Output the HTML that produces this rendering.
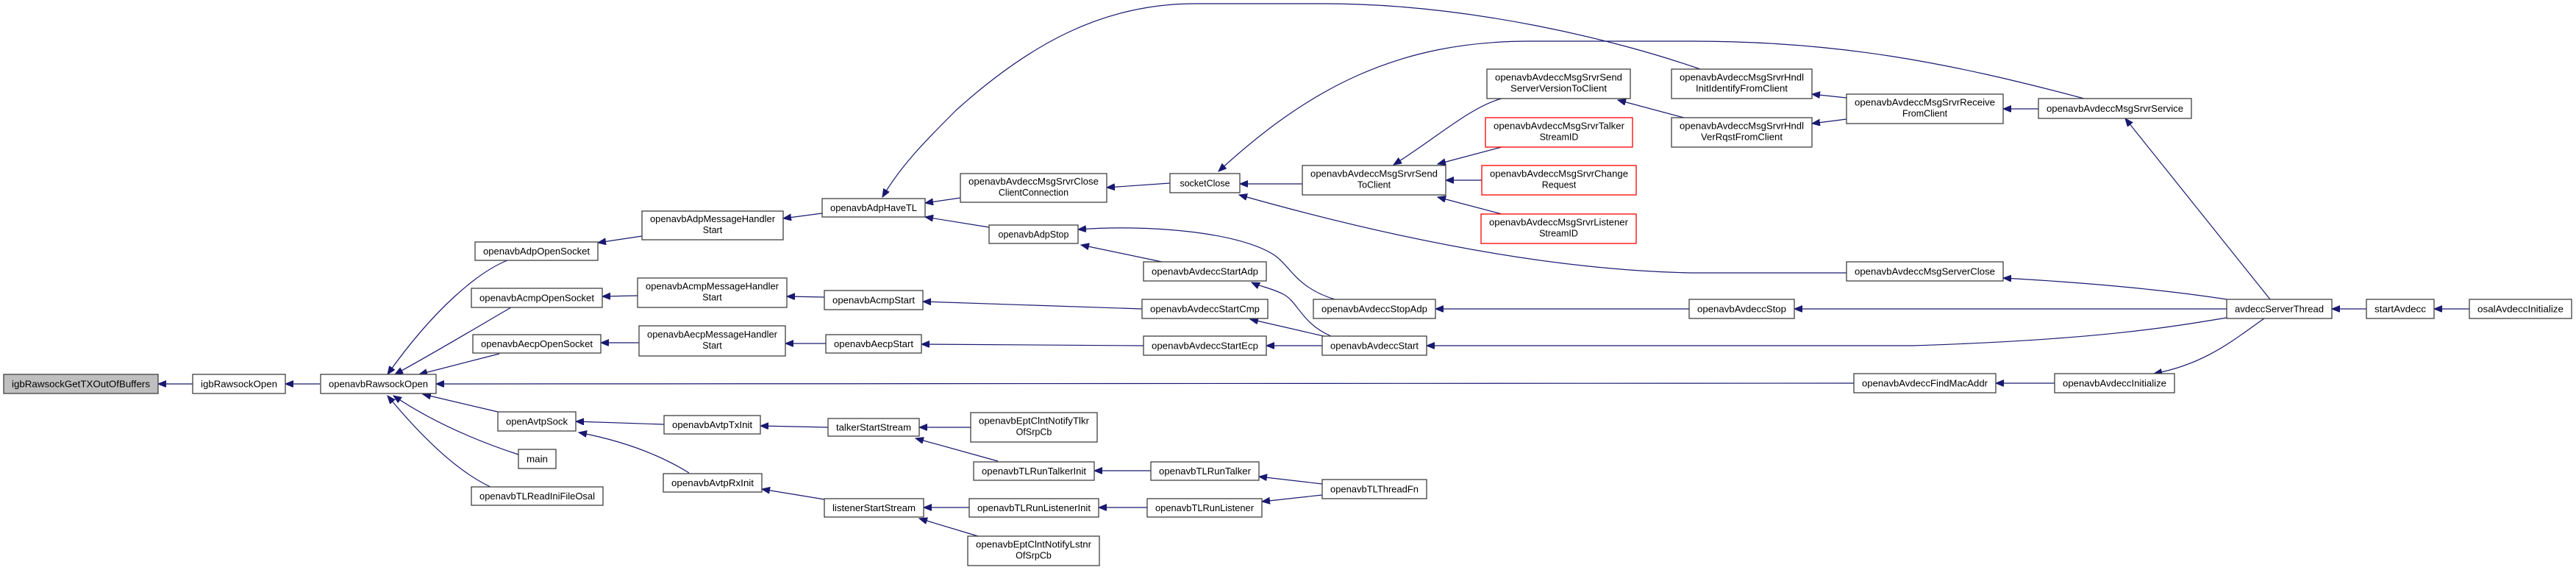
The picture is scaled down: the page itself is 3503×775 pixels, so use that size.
<!DOCTYPE html>
<html><head><meta charset="utf-8"><style>
html,body{margin:0;padding:0;background:#fff;}
svg{display:block;}
text{font-family:"Liberation Sans",sans-serif;font-size:12.5px;fill:#000;text-anchor:middle;}
rect{fill:#fff;stroke:#404040;stroke-width:1.3;}
rect.r{stroke:#ff0000;}
rect.g{fill:#bfbfbf;}
path{fill:none;stroke:#191970;stroke-width:1.2;marker-end:url(#a);}
</style></head><body>
<svg width="3503" height="775" viewBox="0 0 3503 775" xmlns="http://www.w3.org/2000/svg">
<defs><marker id="a" markerUnits="userSpaceOnUse" markerWidth="12" markerHeight="10" refX="11" refY="4.5" orient="auto"><polygon points="0,0 11,4.5 0,9" fill="#191970" stroke="#191970"/></marker></defs>
<g>
<path d="M262,522 L215,522"/>
<path d="M435,522 L388,522"/>
<path d="M690,354 C650,370 590,420 527,509"/>
<path d="M695,418 C640,450 590,480 537,509"/>
<path d="M679,481 L570,509"/>
<path d="M2521,521 L593,522"/>
<path d="M677,560 L575,536"/>
<path d="M705,618 C650,600 590,575 535,538"/>
<path d="M667,662 C620,640 570,590 527,538"/>
<path d="M873,321 L813,330"/>
<path d="M867,402 L819,403"/>
<path d="M869,466 L817,466"/>
<path d="M1118,290 L1065,297"/>
<path d="M1121,404 L1070,403"/>
<path d="M1123,467 L1068,467"/>
<path d="M1306,269 L1258,276"/>
<path d="M1345,309 L1258,295"/>
<path d="M2312,94 C2200,55 2000,5 1800,5 L1625,5 C1500,5 1400,60 1300,150 C1260,190 1225,225 1200,268"/>
<path d="M2834,134 C2650,85 2500,56 2300,56 L2080,56 C1900,56 1780,120 1657,233"/>
<path d="M1591,249 L1505,255"/>
<path d="M1771,250 L1686,250"/>
<path d="M2511,371 L2300,371 C2150,368 1950,340 1685,265"/>
<path d="M1580,356 L1470,333"/>
<path d="M1815,407 C1760,390 1755,360 1730,345 C1680,315 1560,305 1466,312"/>
<path d="M1810,457 C1770,440 1765,410 1745,400 C1730,392 1715,390 1702,384"/>
<path d="M1800,457 L1700,434"/>
<path d="M1798,470 L1722,470"/>
<path d="M1553,420 L1255,410"/>
<path d="M1555,470 L1253,468"/>
<path d="M2042,134 C2000,145 1950,190 1895,224"/>
<path d="M2042,200 L1955,223"/>
<path d="M2015,245 L1966,245"/>
<path d="M2042,291 L1955,268"/>
<path d="M2290,160 L2200,136"/>
<path d="M2511,133 L2464,128"/>
<path d="M2511,162 L2464,168"/>
<path d="M2772,148 L2724,148"/>
<path d="M3087,407 L2890,161"/>
<path d="M3028,407 C2950,395 2850,385 2724,378"/>
<path d="M3028,420 L2440,420"/>
<path d="M2297,420 L1952,420"/>
<path d="M3028,432 C2950,445 2850,462 2600,470 L1940,470"/>
<path d="M3079,433 C3040,460 3000,495 2929,508"/>
<path d="M2794,521 L2714,521"/>
<path d="M3218,420 L3171,420"/>
<path d="M3358,420 L3310,420"/>
<path d="M903,577 L783,573"/>
<path d="M937,643 C900,620 850,600 787,588"/>
<path d="M1126,581 L1034,579"/>
<path d="M1121,679 L1036,665"/>
<path d="M1320,581 L1250,581"/>
<path d="M1357,627 L1245,596"/>
<path d="M1565,640 L1488,640"/>
<path d="M1798,658 L1712,648"/>
<path d="M1318,690 L1256,690"/>
<path d="M1330,729 L1250,705"/>
<path d="M1560,690 L1494,690"/>
<path d="M1798,673 L1716,682"/>
</g>
<g>
<rect class="g" x="5" y="509" width="210" height="26"/><text x="110" y="526.5" textLength="188" lengthAdjust="spacingAndGlyphs">igbRawsockGetTXOutOfBuffers</text>
<rect x="262" y="509" width="126" height="26"/><text x="325" y="526.5" textLength="104" lengthAdjust="spacingAndGlyphs">igbRawsockOpen</text>
<rect x="436" y="509" width="157" height="26"/><text x="514.5" y="526.5" textLength="135" lengthAdjust="spacingAndGlyphs">openavbRawsockOpen</text>
<rect x="646" y="329" width="167" height="25"/><text x="729.5" y="346" textLength="145" lengthAdjust="spacingAndGlyphs">openavbAdpOpenSocket</text>
<rect x="641" y="392" width="178" height="26"/><text x="730" y="409.5" textLength="156" lengthAdjust="spacingAndGlyphs">openavbAcmpOpenSocket</text>
<rect x="643" y="455" width="174" height="25"/><text x="730" y="472" textLength="152" lengthAdjust="spacingAndGlyphs">openavbAecpOpenSocket</text>
<rect x="873" y="287" width="192" height="39"/><text x="969" y="302" textLength="170" lengthAdjust="spacingAndGlyphs">openavbAdpMessageHandler</text><text x="969" y="317">Start</text>
<rect x="867" y="378" width="203" height="40"/><text x="968.5" y="393.5" textLength="181" lengthAdjust="spacingAndGlyphs">openavbAcmpMessageHandler</text><text x="968.5" y="408.5">Start</text>
<rect x="869" y="443" width="199" height="41"/><text x="968.5" y="459" textLength="177" lengthAdjust="spacingAndGlyphs">openavbAecpMessageHandler</text><text x="968.5" y="474">Start</text>
<rect x="1118" y="270" width="140" height="25"/><text x="1188" y="287" textLength="118" lengthAdjust="spacingAndGlyphs">openavbAdpHaveTL</text>
<rect x="1121" y="395" width="134" height="26"/><text x="1188" y="412.5" textLength="112" lengthAdjust="spacingAndGlyphs">openavbAcmpStart</text>
<rect x="1123" y="455" width="130" height="25"/><text x="1188" y="472" textLength="108" lengthAdjust="spacingAndGlyphs">openavbAecpStart</text>
<rect x="677" y="560" width="106" height="26"/><text x="730" y="577.5" textLength="84" lengthAdjust="spacingAndGlyphs">openAvtpSock</text>
<rect x="705" y="611" width="51" height="26"/><text x="730.5" y="628.5" textLength="29" lengthAdjust="spacingAndGlyphs">main</text>
<rect x="641" y="662" width="179" height="25"/><text x="730.5" y="679" textLength="157" lengthAdjust="spacingAndGlyphs">openavbTLReadIniFileOsal</text>
<rect x="903" y="565" width="131" height="25"/><text x="968.5" y="582" textLength="109" lengthAdjust="spacingAndGlyphs">openavbAvtpTxInit</text>
<rect x="902" y="644" width="134" height="25"/><text x="969" y="661" textLength="112" lengthAdjust="spacingAndGlyphs">openavbAvtpRxInit</text>
<rect x="1126" y="569" width="124" height="24"/><text x="1188" y="585.5" textLength="102" lengthAdjust="spacingAndGlyphs">talkerStartStream</text>
<rect x="1121" y="678" width="135" height="25"/><text x="1188.5" y="695" textLength="113" lengthAdjust="spacingAndGlyphs">listenerStartStream</text>
<rect x="1306" y="236" width="199" height="39"/><text x="1405.5" y="251" textLength="177" lengthAdjust="spacingAndGlyphs">openavbAvdeccMsgSrvrClose</text><text x="1405.5" y="266">ClientConnection</text>
<rect x="1345" y="306" width="121" height="25"/><text x="1405.5" y="323">openavbAdpStop</text>
<rect x="1591" y="236" width="95" height="26"/><text x="1638.5" y="253.5">socketClose</text>
<rect x="1771" y="225" width="195" height="40"/><text x="1868.5" y="240.5" textLength="173" lengthAdjust="spacingAndGlyphs">openavbAvdeccMsgSrvrSend</text><text x="1868.5" y="255.5">ToClient</text>
<rect x="1555" y="356" width="167" height="26"/><text x="1638.5" y="373.5" textLength="145" lengthAdjust="spacingAndGlyphs">openavbAvdeccStartAdp</text>
<rect x="1553" y="407" width="171" height="26"/><text x="1638.5" y="424.5" textLength="149" lengthAdjust="spacingAndGlyphs">openavbAvdeccStartCmp</text>
<rect x="1555" y="457" width="167" height="26"/><text x="1638.5" y="474.5" textLength="145" lengthAdjust="spacingAndGlyphs">openavbAvdeccStartEcp</text>
<rect x="1786" y="407" width="166" height="26"/><text x="1869" y="424.5" textLength="144" lengthAdjust="spacingAndGlyphs">openavbAvdeccStopAdp</text>
<rect x="1798" y="457" width="142" height="26"/><text x="1869" y="474.5" textLength="120" lengthAdjust="spacingAndGlyphs">openavbAvdeccStart</text>
<rect x="1320" y="561" width="172" height="40"/><text x="1406" y="576.5" textLength="150" lengthAdjust="spacingAndGlyphs">openavbEptClntNotifyTlkr</text><text x="1406" y="591.5">OfSrpCb</text>
<rect x="1324" y="628" width="164" height="25"/><text x="1406" y="645" textLength="142" lengthAdjust="spacingAndGlyphs">openavbTLRunTalkerInit</text>
<rect x="1565" y="628" width="147" height="25"/><text x="1638.5" y="645" textLength="125" lengthAdjust="spacingAndGlyphs">openavbTLRunTalker</text>
<rect x="1798" y="652" width="142" height="26"/><text x="1869" y="669.5" textLength="120" lengthAdjust="spacingAndGlyphs">openavbTLThreadFn</text>
<rect x="1318" y="678" width="176" height="25"/><text x="1406" y="695" textLength="154" lengthAdjust="spacingAndGlyphs">openavbTLRunListenerInit</text>
<rect x="1560" y="678" width="156" height="25"/><text x="1638" y="695" textLength="134" lengthAdjust="spacingAndGlyphs">openavbTLRunListener</text>
<rect x="1316" y="729" width="179" height="40"/><text x="1405.5" y="744.5" textLength="157" lengthAdjust="spacingAndGlyphs">openavbEptClntNotifyLstnr</text><text x="1405.5" y="759.5">OfSrpCb</text>
<rect x="2022" y="94" width="195" height="40"/><text x="2119.5" y="109.5" textLength="173" lengthAdjust="spacingAndGlyphs">openavbAvdeccMsgSrvrSend</text><text x="2119.5" y="124.5" textLength="131" lengthAdjust="spacingAndGlyphs">ServerVersionToClient</text>
<rect class="r" x="2020" y="160" width="200" height="40"/><text x="2120" y="175.5" textLength="178" lengthAdjust="spacingAndGlyphs">openavbAvdeccMsgSrvrTalker</text><text x="2120" y="190.5">StreamID</text>
<rect class="r" x="2015" y="225" width="210" height="40"/><text x="2120" y="240.5" textLength="188" lengthAdjust="spacingAndGlyphs">openavbAvdeccMsgSrvrChange</text><text x="2120" y="255.5">Request</text>
<rect class="r" x="2014" y="291" width="211" height="40"/><text x="2119.5" y="306.5" textLength="189" lengthAdjust="spacingAndGlyphs">openavbAvdeccMsgSrvrListener</text><text x="2119.5" y="321.5">StreamID</text>
<rect x="2273" y="94" width="191" height="40"/><text x="2368.5" y="109.5" textLength="169" lengthAdjust="spacingAndGlyphs">openavbAvdeccMsgSrvrHndl</text><text x="2368.5" y="124.5" textLength="125" lengthAdjust="spacingAndGlyphs">InitIdentifyFromClient</text>
<rect x="2273" y="160" width="191" height="40"/><text x="2368.5" y="175.5" textLength="169" lengthAdjust="spacingAndGlyphs">openavbAvdeccMsgSrvrHndl</text><text x="2368.5" y="190.5" textLength="111" lengthAdjust="spacingAndGlyphs">VerRqstFromClient</text>
<rect x="2511" y="128" width="213" height="40"/><text x="2617.5" y="143.5" textLength="191" lengthAdjust="spacingAndGlyphs">openavbAvdeccMsgSrvrReceive</text><text x="2617.5" y="158.5">FromClient</text>
<rect x="2511" y="356" width="213" height="26"/><text x="2617.5" y="373.5" textLength="191" lengthAdjust="spacingAndGlyphs">openavbAvdeccMsgServerClose</text>
<rect x="2297" y="407" width="143" height="26"/><text x="2368.5" y="424.5" textLength="121" lengthAdjust="spacingAndGlyphs">openavbAvdeccStop</text>
<rect x="2521" y="508" width="193" height="26"/><text x="2617.5" y="525.5" textLength="171" lengthAdjust="spacingAndGlyphs">openavbAvdeccFindMacAddr</text>
<rect x="2772" y="134" width="208" height="27"/><text x="2876" y="152" textLength="186" lengthAdjust="spacingAndGlyphs">openavbAvdeccMsgSrvrService</text>
<rect x="3028" y="407" width="143" height="26"/><text x="3099.5" y="424.5" textLength="121" lengthAdjust="spacingAndGlyphs">avdeccServerThread</text>
<rect x="3218" y="407" width="92" height="26"/><text x="3264" y="424.5" textLength="70" lengthAdjust="spacingAndGlyphs">startAvdecc</text>
<rect x="3358" y="407" width="139" height="26"/><text x="3427.5" y="424.5" textLength="117" lengthAdjust="spacingAndGlyphs">osalAvdeccInitialize</text>
<rect x="2794" y="508" width="163" height="26"/><text x="2875.5" y="525.5" textLength="141" lengthAdjust="spacingAndGlyphs">openavbAvdeccInitialize</text>
</g>
</svg>
</body></html>
